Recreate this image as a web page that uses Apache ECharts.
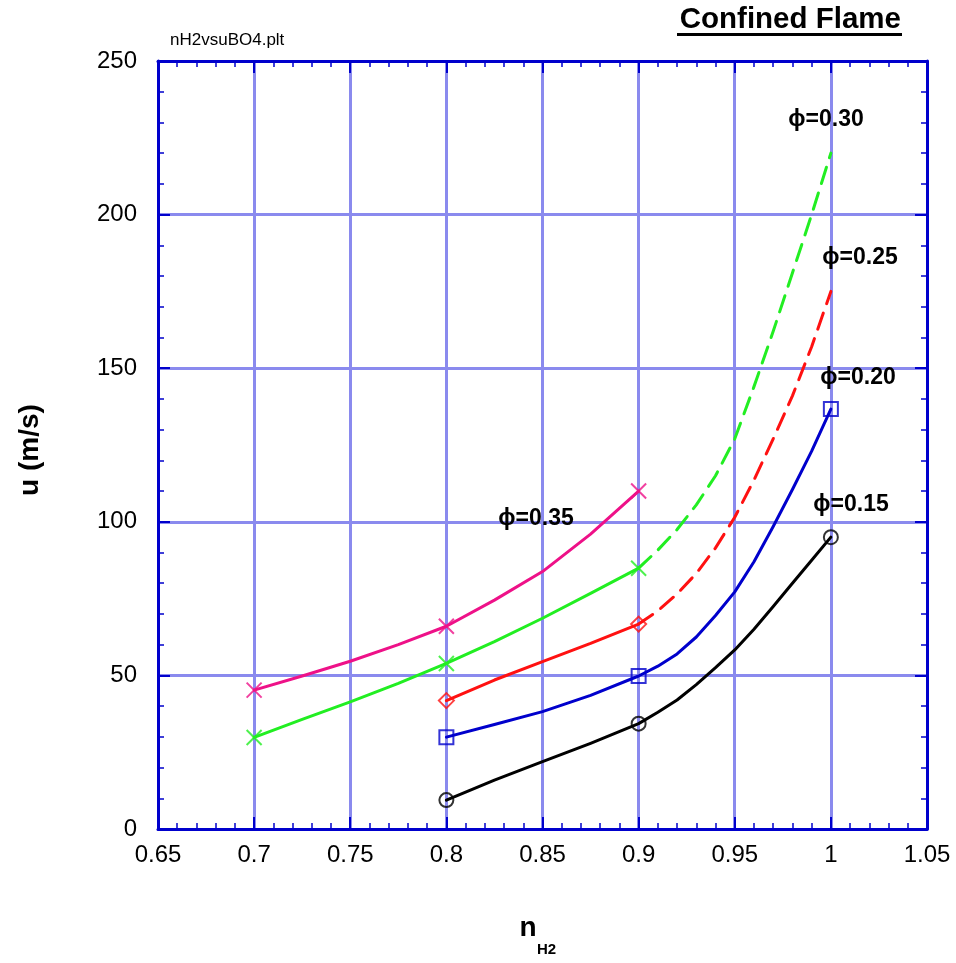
<!DOCTYPE html>
<html>
<head>
<meta charset="utf-8">
<title>Confined Flame</title>
<script src="https://cdn.jsdelivr.net/npm/echarts@6/dist/echarts.min.js"></script>
<style>
  html, body { margin: 0; padding: 0; background: #fff; }
  #chart { width: 956px; height: 963px; }
</style>
</head>
<body>
<div id="chart"></div>
<script>
// axis ranges / ticks
const xMin = 0.65
const xMax = 1.05
const xStep = 0.05
const yMin = 0
const yMax = 250
const yStep = 50

// phi = 0.35 (magenta, solid)
const nH2_035 = [0.7, 0.725, 0.75, 0.775, 0.8, 0.825, 0.85, 0.875, 0.9]
const u_035 = [45.2, 49.8, 54.6, 60, 66, 74.5, 83.8, 96, 110]
const nodes_035 = [0.7, 0.8, 0.9]

// phi = 0.30 (green, solid then dashed)
const nH2_030 = [0.7, 0.725, 0.75, 0.775, 0.8, 0.825, 0.85, 0.875, 0.9]
const u_030 = [29.8, 35.7, 41.4, 47.4, 53.9, 61, 68.6, 76.7, 84.9]
const nH2_030d = [0.9, 0.91, 0.92, 0.93, 0.94, 0.95, 0.96, 0.97, 0.98, 0.99, 1.0]
const u_030d = [84.9, 90.8, 97.5, 105.5, 115, 127, 144, 162, 181, 200, 220]
const nodes_030 = [0.7, 0.8, 0.9]

// phi = 0.25 (red, solid then dashed)
const nH2_025 = [0.8, 0.825, 0.85, 0.875, 0.9]
const u_025 = [41.8, 48.5, 54.5, 60.4, 66.7]
const nH2_025d = [0.9, 0.91, 0.92, 0.93, 0.94, 0.95, 0.96, 0.97, 0.98, 0.99, 1.0]
const u_025d = [66.7, 71, 76.5, 83.2, 91.5, 101.5, 113.6, 127, 141, 157, 175]
const nodes_025 = [0.8, 0.9]

// phi = 0.20 (blue, solid)
const nH2_020 = [0.8, 0.825, 0.85, 0.875, 0.9, 0.91, 0.92, 0.93, 0.94, 0.95, 0.96, 0.97, 0.98, 0.99, 1.0]
const u_020 = [29.9, 34, 38.2, 43.5, 49.8, 53, 57, 62.5, 69.5, 77.2, 87, 98.5, 110.5, 123, 136.7]
const nodes_020 = [0.8, 0.9, 1.0]

// phi = 0.15 (black, solid)
const nH2_015 = [0.8, 0.825, 0.85, 0.875, 0.9, 0.91, 0.92, 0.93, 0.94, 0.95, 0.96, 0.97, 0.98, 0.99, 1.0]
const u_015 = [9.4, 15.9, 21.9, 27.9, 34.3, 38, 42, 47, 52.5, 58.3, 65, 72.4, 80, 87.5, 95]
const nodes_015 = [0.8, 0.9, 1.0]

const FONT = '"Liberation Sans", Arial, Helvetica, sans-serif'
const AXIS_BLUE = '#0000cc'
const GRID_BLUE = '#8a8aee'

const xSymbol = 'path://M0,0L10,10M10,0L0,10'

function pairs (xs, ys) {
  return xs.map((x, i) => [x, ys[i]])
}

function markers (nodes, xs, ys) {
  return nodes.map(n => [n, ys[xs.indexOf(n)]])
}

function curve (name, xs, ys, color, dashed) {
  return {
    name: name,
    type: 'line',
    data: pairs(xs, ys),
    smooth: false,
    showSymbol: false,
    silent: true,
    z: 3,
    lineStyle: {
      color: color,
      width: 3,
      type: dashed ? [17, 10] : 'solid',
      cap: 'round',
      join: 'round'
    }
  }
}

function marks (name, data, symbol, size, color) {
  return {
    name: name,
    type: 'scatter',
    data: data,
    symbol: symbol,
    symbolSize: size,
    silent: true,
    z: 4,
    itemStyle: {
      color: 'rgba(0,0,0,0)',
      borderColor: color,
      borderWidth: 2
    }
  }
}

function baseX (show) {
  return {
    type: 'value',
    min: xMin,
    max: xMax,
    interval: xStep,
    position: show ? 'bottom' : 'top',
    axisLine: { show: true, onZero: false, lineStyle: { color: AXIS_BLUE, width: 3 } },
    axisTick: { show: true, inside: true, length: 12, lineStyle: { color: AXIS_BLUE, width: 2 } },
    minorTick: { show: true, splitNumber: 5, length: 6, lineStyle: { color: AXIS_BLUE, width: 1.5 } },
    splitLine: { show: show, lineStyle: { color: GRID_BLUE, width: 3 } },
    axisLabel: {
      show: show,
      color: '#000',
      fontFamily: FONT,
      fontSize: 24,
      margin: 14,
      formatter: v => String(+v.toFixed(2))
    }
  }
}

function baseY (show) {
  return {
    type: 'value',
    min: yMin,
    max: yMax,
    interval: yStep,
    position: show ? 'left' : 'right',
    axisLine: { show: true, onZero: false, lineStyle: { color: AXIS_BLUE, width: 3 } },
    axisTick: { show: true, inside: true, length: 12, lineStyle: { color: AXIS_BLUE, width: 2 } },
    minorTick: { show: true, splitNumber: 5, length: 6, lineStyle: { color: AXIS_BLUE, width: 1.5 } },
    splitLine: { show: show, lineStyle: { color: GRID_BLUE, width: 3 } },
    axisLabel: {
      show: show,
      color: '#000',
      fontFamily: FONT,
      fontSize: 24,
      margin: 21
    }
  }
}

function label (text, x, y, size, extra) {
  return Object.assign({
    type: 'text',
    x: x,
    y: y,
    z: 10,
    style: {
      text: text,
      fill: '#000',
      font: 'bold ' + size + 'px ' + FONT,
      align: 'center',
      verticalAlign: 'middle'
    }
  }, extra || {})
}

const chart = echarts.init(document.getElementById('chart'), null, { renderer: 'canvas' })

chart.setOption({
  backgroundColor: '#fff',
  animation: false,
  grid: { left: 158, top: 61, right: 29, bottom: 134, containLabel: false },
  xAxis: [baseX(true), baseX(false)],
  yAxis: [baseY(true), baseY(false)],
  series: [
    curve('φ=0.35', nH2_035, u_035, '#ee1188', false),
    curve('φ=0.30', nH2_030, u_030, '#22ee22', false),
    curve('φ=0.30 ext', nH2_030d, u_030d, '#22ee22', true),
    curve('φ=0.25', nH2_025, u_025, '#ff1111', false),
    curve('φ=0.25 ext', nH2_025d, u_025d, '#ff1111', true),
    curve('φ=0.20', nH2_020, u_020, '#0000cc', false),
    curve('φ=0.15', nH2_015, u_015, '#000000', false),
    marks('m035', markers(nodes_035, nH2_035, u_035), xSymbol, 15, '#ee1188'),
    marks('m030', markers(nodes_030, nH2_030, u_030), xSymbol, 15, '#22ee22'),
    marks('m025', markers(nodes_025, nH2_025, u_025), 'diamond', 15, '#ff1111'),
    marks('m020', markers(nodes_020, nH2_020, u_020), 'rect', 14, '#0000cc'),
    marks('m015', markers(nodes_015, nH2_015, u_015), 'circle', 14, '#000000')
  ],
  graphic: [
    {
      type: 'text', x: 170, y: 40, z: 10,
      style: { text: 'nH2vsuBO4.plt', fill: '#000', font: '17px ' + FONT, align: 'left', verticalAlign: 'middle' }
    },
    {
      type: 'text', x: 901, y: 20, z: 10,
      style: { text: 'Confined Flame', fill: '#000', font: 'bold 29.5px ' + FONT, align: 'right', verticalAlign: 'middle' }
    },
    {
      type: 'line', z: 10,
      shape: { x1: 677, y1: 34.5, x2: 902, y2: 34.5 },
      style: { stroke: '#000', lineWidth: 3 }
    },
    label('ϕ=0.30', 826, 120, 23),
    label('ϕ=0.25', 860, 258, 23),
    label('ϕ=0.20', 858, 378, 23),
    label('ϕ=0.15', 851, 505, 23),
    label('ϕ=0.35', 536, 519, 23),
    label('u (m/s)', 30, 450, 28, { rotation: Math.PI / 2 }),
    label('n', 528, 928, 28),
    {
      type: 'text', x: 537, y: 950, z: 10,
      style: { text: 'H2', fill: '#000', font: 'bold 15px ' + FONT, align: 'left', verticalAlign: 'middle' }
    }
  ]
})
</script>
</body>
</html>
